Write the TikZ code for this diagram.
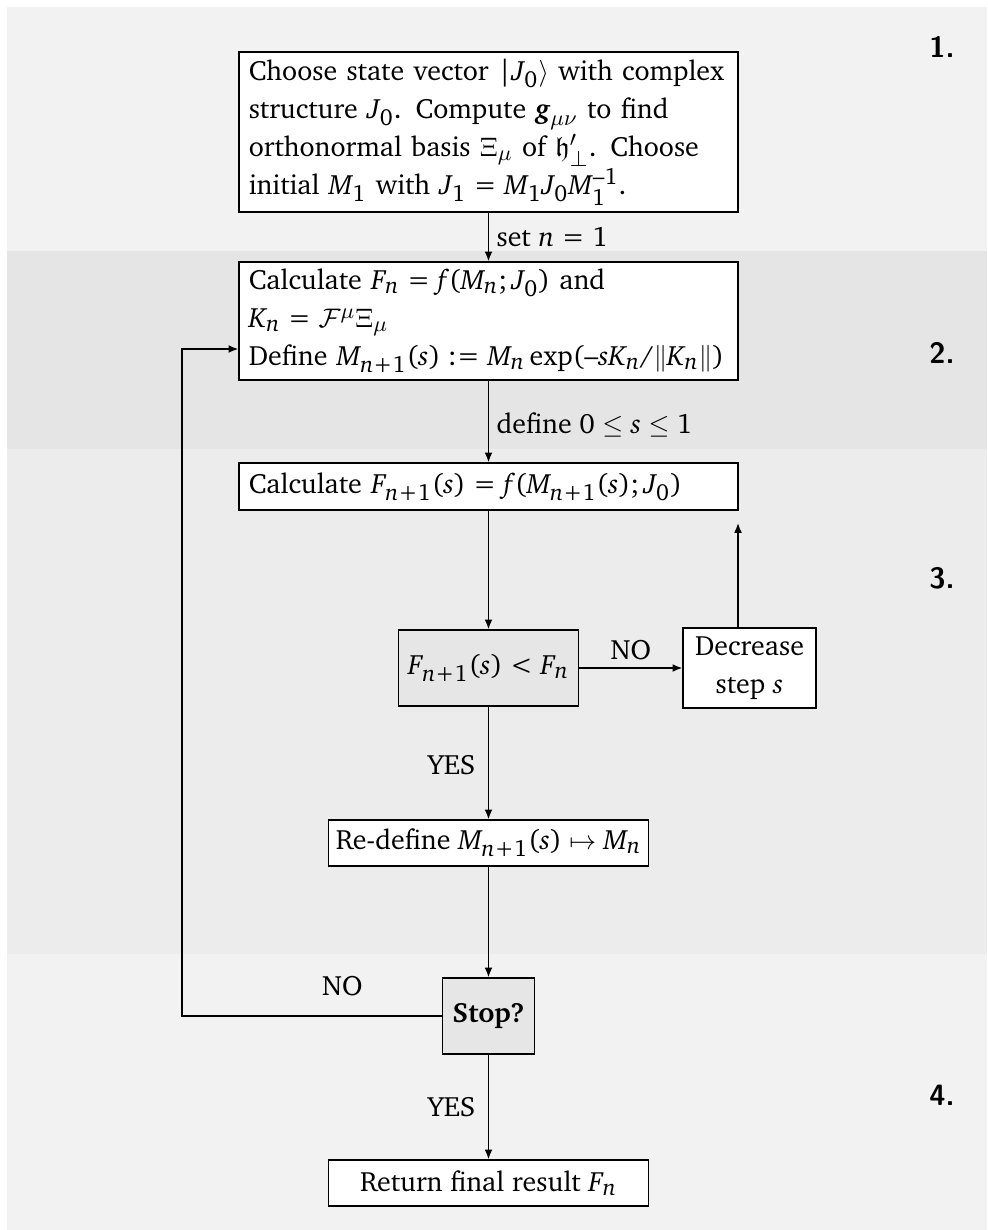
\documentclass[tikz,border=0pt]{standalone}
\usepackage[T1]{fontenc}
\usepackage{amsmath}
\usepackage{charter}
\usepackage[italic]{mathastext}
\usetikzlibrary{arrows.meta,calc}
\DeclareMathAlphabet{\mfrak}{U}{euf}{m}{n}
\newdimen\pxu \pxu=0.408pt
\definecolor{bandA}{HTML}{F2F2F2}
\definecolor{bandB}{HTML}{E5E5E5}
\definecolor{bandC}{HTML}{ECECEC}
\definecolor{decfill}{HTML}{E6E6E6}
\newcommand\stagefont{\fontencoding{OT1}\fontfamily{cmss}\fontseries{bx}\fontshape{n}\fontsize{12}{14}\selectfont}
\tikzset{
  stepbox/.style={draw=black, fill=white, line width=0.55pt, inner xsep=4pt, inner ysep=2pt,
    font=\fontsize{11.4}{15.5}\selectfont},
  decbox/.style={stepbox, fill=decfill},
  conn/.style={line width=0.6pt, -{Latex[length=4pt,width=3.2pt]}},
  lbl/.style={font=\fontsize{11.4}{13}\selectfont, inner sep=1pt},
  stage/.style={font=\stagefont}
}
\begin{document}
\begin{tikzpicture}[x=0.408pt, y=-0.408pt]
\useasboundingbox (0,0) rectangle (987,1230);
\fill[white] (0,0) rectangle (987,1230);
\fill[bandA] (7,7) rectangle (987,250.7);
\fill[bandB] (7,250.7) rectangle (987,449);
\fill[bandC] (7,449) rectangle (987,954);
\fill[bandA] (7,954) rectangle (987,1230);

\node[stage] (s1) at (942,47) {1.};
\node[stage] (s2) at (942,353) {2.};
\node[stage] (s3) at (942,578) {3.};
\node[stage] (s4) at (942,1095) {4.};

\node[stepbox, minimum width=499\pxu, minimum height=160\pxu, text width=195.6pt, align=left] (b1) at (488.5,132)
 {Choose state vector $|J_0\rangle$ with complex\\
  structure $J_0$. Compute $\boldsymbol{g}_{\mu\nu}$ to find\\
  orthonormal basis $\Xi_\mu$ of $\mfrak{h}'_{\perp}$. Choose\\
  initial $M_1$ with $J_1 = M_1J_0M_1^{-1}$.};

\node[stepbox, minimum width=499\pxu, minimum height=118\pxu, text width=195.6pt, align=left] (b2) at (488.5,321)
 {Calculate $F_n = f(M_n;J_0)$ and\\
  $K_n = \mathcal{F}^\mu\Xi_\mu$\\
  Define $M_{n+1}(s) := M_n\exp(-sK_n/\|K_n\|)$};

\node[stepbox, minimum width=499\pxu, minimum height=47\pxu, text width=195.6pt, align=left] (b3) at (488.5,486.5)
 {Calculate $F_{n+1}(s) = f(M_{n+1}(s);J_0)$};

\node[decbox, minimum width=171\pxu, minimum height=76\pxu] (d1) at (488.5,668)
 {$F_{n+1}(s) < F_n$};

\node[stepbox, minimum width=133\pxu, minimum height=80\pxu, align=center] (dec) at (749.5,668)
 {Decrease\\ step $s$};

\node[stepbox, minimum width=316\pxu, minimum height=46\pxu, inner xsep=3pt] (rd) at (488.5,843)
 {Re-define $M_{n+1}(s) \mapsto M_n$};

\node[decbox, minimum width=91\pxu, minimum height=76\pxu] (st) at (488.5,1016)
 {\textbf{Stop?}};

\node[stepbox, minimum width=320\pxu, minimum height=46\pxu] (rt) at (488.5,1183)
 {Return final result $F_n$};

\coordinate (up) at (738,523);
\coordinate (lp) at (182,1016);
\coordinate (lq) at (182,349);

\draw[conn] (b1.south) -- node[lbl, right=2pt, pos=0.5] {set $n=1$} (b2.north);
\draw[conn] (b2.south) -- node[lbl, right=2pt, pos=0.54] {define $0\le s\le 1$} (b3.north);
\draw[conn] (b3.south) -- (d1.north);
\draw[conn] (d1.east) -- node[lbl, above=2pt] {NO} (dec.west);
\draw[conn] (dec.north -| up) -- (up);
\draw[conn] (d1.south) -- node[lbl, left=4pt, pos=0.52] {YES} (rd.north);
\draw[conn] (rd.south) -- (st.north);
\draw[conn] (st.west) -- node[lbl, above=7pt, pos=0.383] {NO} (lp) -- (lq) -- (lq -| b2.west);
\draw[conn] (st.south) -- node[lbl, left=4pt, pos=0.5] {YES} (rt.north);
\end{tikzpicture}
\end{document}
